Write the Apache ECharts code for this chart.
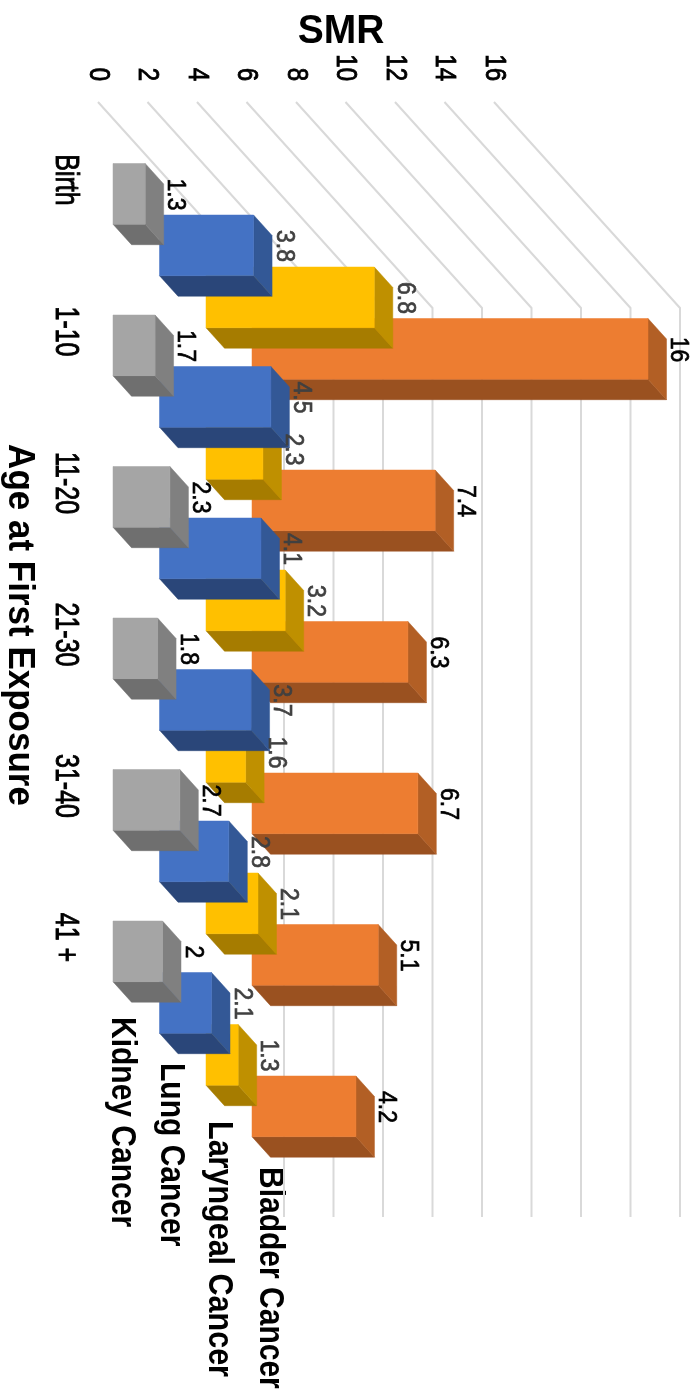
<!DOCTYPE html>
<html>
<head>
<meta charset="utf-8">
<style>html,body{margin:0;padding:0;background:#fff}#chart{width:700px;height:1395px}</style>
<script src="https://cdn.jsdelivr.net/npm/echarts@6/dist/echarts.min.js"></script>
</head>
<body>
<div id="chart"></div>
<script>
// SMR by age at first exposure, one pseudo-3D horizontal bar per cancer type
const ageGroups = ['Birth', '1-10', '11-20', '21-30', '31-40', '41 +'];
const smrTicks = [0, 2, 4, 6, 8, 10, 12, 14, 16];
const kidney = [1.3, 1.7, 2.3, 1.8, 2.7, 2];
const lung = [3.8, 4.5, 4.1, 3.7, 2.8, 2.1];
const laryngeal = [6.8, 2.3, 3.2, 1.6, 2.1, 1.3];
const bladder = [16, 7.4, 6.3, 6.7, 5.1, 4.2];
const seriesNames = ['Kidney Cancer', 'Lung Cancer', 'Laryngeal Cancer', 'Bladder Cancer'];

// Row geometry and face shading of each bar, from the front row to the back row
const rows = [
  { name: seriesNames[0], values: kidney, dx: 15, dy: -16.5, face: '#A5A5A5', side: '#808080', under: '#6F6F6F', ink: '#000000' },
  { name: seriesNames[1], values: lung, dx: 61.5, dy: 35, face: '#4472C4', side: '#335896', under: '#2A4679', ink: '#404040' },
  { name: seriesNames[2], values: laryngeal, dx: 108, dy: 87, face: '#FFC000', side: '#BF9000', under: '#A67C00', ink: '#404040' },
  { name: seriesNames[3], values: bladder, dx: 154, dy: 138.5, face: '#ED7D31', side: '#B25F25', under: '#9A5120', ink: '#000000' }
];

const FONT = '"Liberation Sans", Arial, sans-serif';
const BAR_HEIGHT = 60.7;
const DEPTH_X = 18.5;
const DEPTH_Y = 20.5;
const WALL_TOP = 102;
const WALL_X = 186;
const WALL_Y = 206;
const WALL_BOTTOM = 1217;

// Rotated text, stretched across its reading direction; heavy adds a thin outline
function sideText(text, x, y, size, stretch, fill, weight, align, heavy) {
  const style = {
    text, x: 0, y: 0, fill, align: align || 'center', verticalAlign: 'middle',
    fontSize: size, fontFamily: FONT, fontWeight: weight || 'normal'
  };
  if (heavy) {
    style.stroke = fill;
    style.lineWidth = heavy;
  }
  return { type: 'text', x, y, rotation: -Math.PI / 2, scaleY: stretch, silent: true, style };
}

const barSeries = rows.slice().reverse().map((row, k) => ({
  type: 'custom', name: row.name, z: 2 + k, clip: false, coordinateSystem: 'cartesian2d',
  encode: { x: 0, y: 1 },
  data: row.values.map((v, i) => [v, i]),
  renderItem(params, api) {
    const base = api.coord([0, api.value(1)]);
    const end = api.coord([api.value(0), api.value(1)]);
    const x0 = base[0] + row.dx, x1 = end[0] + row.dx;
    const yT = base[1] + row.dy, yB = yT + BAR_HEIGHT;
    const poly = (points, fill) => ({ type: 'polygon', shape: { points }, style: { fill, stroke: fill, lineWidth: 0.5 } });
    return {
      type: 'group',
      children: [
        poly([[x0, yB], [x0 + DEPTH_X, yB + DEPTH_Y], [x1 + DEPTH_X, yB + DEPTH_Y], [x1, yB]], row.under),
        poly([[x1, yT], [x1 + DEPTH_X, yT + DEPTH_Y], [x1 + DEPTH_X, yB + DEPTH_Y], [x1, yB]], row.side),
        poly([[x0, yT], [x1, yT], [x1, yB], [x0, yB]], row.face)
      ]
    };
  }
}));

const valueLabelSeries = rows.map((row) => ({
  type: 'custom', name: row.name + ' values', z: 20, clip: false, coordinateSystem: 'cartesian2d',
  encode: { x: 0, y: 1 },
  data: row.values.map((v, i) => [v, i]),
  renderItem(params, api) {
    const base = api.coord([0, api.value(1)]);
    const end = api.coord([api.value(0), api.value(1)]);
    return sideText(String(api.value(0)), end[0] + row.dx + DEPTH_X + 12, base[1] + row.dy + 31, 23, 1.15, row.ink, 'normal', 'center', 0.6);
  }
}));

const wallSeries = {
  type: 'custom', name: 'SMR gridlines', z: 1, clip: false, coordinateSystem: 'cartesian2d',
  encode: { x: 0, y: 1 },
  data: smrTicks.map((v) => [v, 0]),
  renderItem(params, api) {
    const x = api.coord([api.value(0), 0])[0];
    return {
      type: 'polyline',
      shape: { points: [[x, WALL_TOP], [x + WALL_X, WALL_TOP + WALL_Y], [x + WALL_X, WALL_BOTTOM]] },
      style: { fill: 'none', stroke: '#D9D9D9', lineWidth: 2 }
    };
  }
};

const tickLabelSeries = {
  type: 'custom', name: 'SMR ticks', z: 20, clip: false, coordinateSystem: 'cartesian2d',
  encode: { x: 0, y: 1 },
  data: smrTicks.map((v) => [v, 0]),
  renderItem(params, api) {
    const x = api.coord([api.value(0), 0])[0];
    return sideText(String(api.value(0)), x, 81, 24, 1.25, '#000000', 'normal', 'right', 0.7);
  }
};

const ageLabelSeries = {
  type: 'custom', name: 'Age groups', z: 20, clip: false, coordinateSystem: 'cartesian2d',
  encode: { x: 0, y: 1 },
  data: ageGroups.map((g, i) => [0, i]),
  renderItem(params, api) {
    const y = api.coord([0, api.value(1)])[1];
    return sideText(ageGroups[api.value(1)], 65, y, 25, 1.3, '#000000', 'normal', 'center', 0.7);
  }
};

const option = {
  backgroundColor: '#ffffff',
  animation: false,
  grid: { left: 98, top: 104.25, width: 396, height: 909, containLabel: false },
  xAxis: {
    type: 'value', position: 'top', min: 0, max: 16, interval: 2,
    axisLine: { show: false }, axisTick: { show: false }, axisLabel: { show: false }, splitLine: { show: false }
  },
  yAxis: {
    type: 'category', inverse: true, data: ageGroups,
    axisLine: { show: false }, axisTick: { show: false }, axisLabel: { show: false }, splitLine: { show: false }
  },
  graphic: [
    { type: 'text', x: 341, y: 32, scaleY: 1.06, silent: true,
      style: { text: 'SMR', x: 0, y: 0, align: 'center', verticalAlign: 'middle', fill: '#000', fontSize: 39, fontWeight: 'bold', fontFamily: FONT } },
    sideText('Age at First Exposure', 19, 625, 35, 1.08, '#000', 'bold'),
    sideText(seriesNames[0], 122, 1017, 30, 1.17, '#000', 'bold', 'left'),
    sideText(seriesNames[1], 171, 1063, 30, 1.17, '#000', 'bold', 'left'),
    sideText(seriesNames[2], 219, 1121, 30.5, 1.17, '#000', 'bold', 'left'),
    sideText(seriesNames[3], 270, 1167, 30, 1.17, '#000', 'bold', 'left')
  ],
  series: [wallSeries].concat(barSeries, valueLabelSeries, [tickLabelSeries, ageLabelSeries])
};

echarts.init(document.getElementById('chart'), null, { renderer: 'canvas' }).setOption(option);
</script>
</body>
</html>
